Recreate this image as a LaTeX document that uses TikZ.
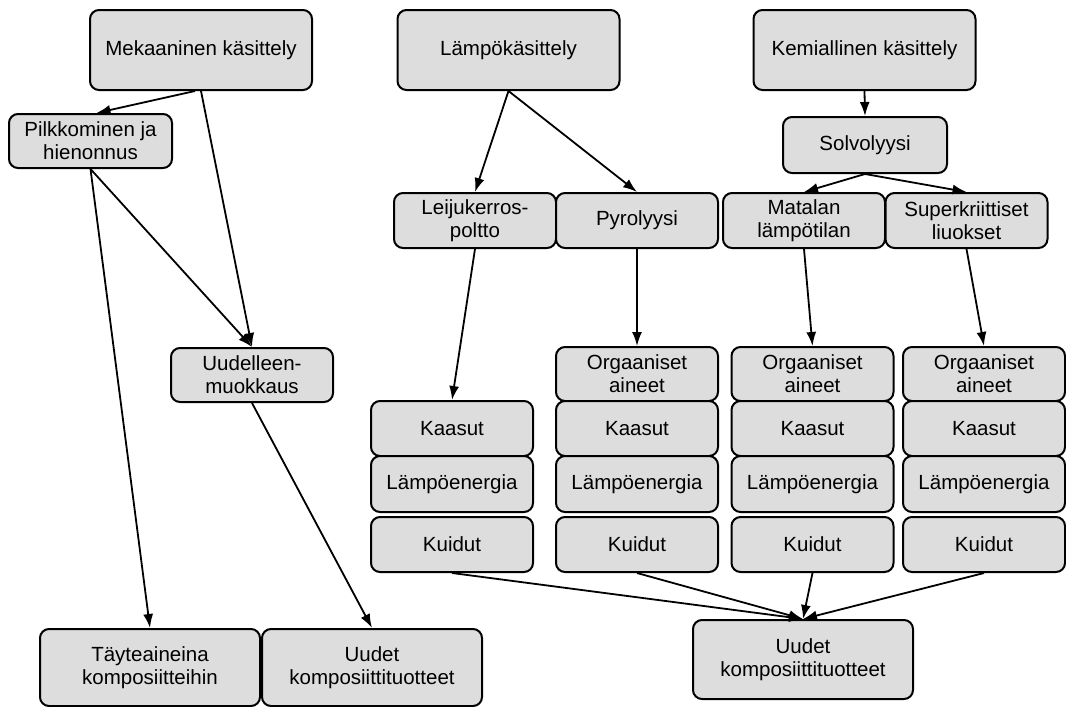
\documentclass[tikz,border=0pt]{standalone}
\usepackage{fontspec}
\setmainfont{Liberation Sans}
\usetikzlibrary{arrows.meta}
\definecolor{boxgray}{RGB}{221,221,221}
\begin{document}
\begin{tikzpicture}[x=1pt,y=-1pt,
  box/.style={draw,line width=2pt,fill=boxgray,rounded corners=9pt,align=center,inner sep=0pt,
    font=\fontsize{20.5}{23}\selectfont},
  big/.style={box,minimum width=222,minimum height=80},
  small/.style={box,minimum width=162,minimum height=55},
  arr/.style={line width=1.8pt,-{Latex[length=14pt,width=10pt]}}]
\useasboundingbox[fill=white] (0,0) rectangle (1066,707);
\node[big] (mek) at (201,50) {Mekaaninen käsittely};
\node[big] (lampo) at (508.5,50) {Lämpökäsittely};
\node[big] (kemi) at (864.5,50) {Kemiallinen käsittely};
\node[small,minimum width=163,minimum height=54] (pilk) at (90.5,141) {Pilkkominen ja\\hienonnus};
\node[small,minimum width=164,minimum height=56] (solvo) at (865,145) {Solvolyysi};
\node[small] (leiju) at (475,220.5) {Leijukerros-\\poltto};
\node[small] (pyro) at (637,220.5) {Pyrolyysi};
\node[small] (matala) at (804,220.5) {Matalan\\lämpötilan};
\node[small] (superk) at (966.5,220.5) {Superkriittiset\\liuokset};
\node[small,minimum height=54] (uud) at (252,375) {Uudelleen-\\muokkaus};
\node[small,minimum height=54] (org2) at (637,374) {Orgaaniset\\aineet};
\node[small,minimum height=54] (org3) at (812.5,374) {Orgaaniset\\aineet};
\node[small,minimum height=54] (org4) at (984,374) {Orgaaniset\\aineet};
\node[small] (kaa1) at (452,428.5) {Kaasut};
\node[small] (kaa2) at (637,428.5) {Kaasut};
\node[small] (kaa3) at (812.5,428.5) {Kaasut};
\node[small] (kaa4) at (984,428.5) {Kaasut};
\node[small,minimum height=56] (ene1) at (452,484) {Lämpöenergia};
\node[small,minimum height=56] (ene2) at (637,484) {Lämpöenergia};
\node[small,minimum height=56] (ene3) at (812.5,484) {Lämpöenergia};
\node[small,minimum height=56] (ene4) at (984,484) {Lämpöenergia};
\node[small] (kui1) at (452,544.5) {Kuidut};
\node[small] (kui2) at (637,544.5) {Kuidut};
\node[small] (kui3) at (812.5,544.5) {Kuidut};
\node[small] (kui4) at (984,544.5) {Kuidut};
\node[box,minimum width=220,minimum height=77] (tayte) at (150,667.5) {Täyteaineina\\komposiitteihin};
\node[box,minimum width=220,minimum height=77] (uudL) at (372,667.5) {Uudet\\komposiittituotteet};
\node[box,minimum width=220,minimum height=79] (uudR) at (803,659.5) {Uudet\\komposiittituotteet};
\draw[arr] ([xshift=-6pt]mek.south) -- ([xshift=6pt]pilk.north);
\draw[arr] (mek.south) -- (uud.north);
\draw[arr] (pilk.south) -- (uud.north);
\draw[arr] (pilk.south) -- (tayte.north);
\draw[arr] (uud.south) -- (uudL.north);
\draw[arr] (lampo.south) -- (leiju.north);
\draw[arr] (lampo.south) -- (pyro.north);
\draw[arr] (kemi.south) -- (solvo.north);
\draw[arr] (solvo.south) -- (matala.north);
\draw[arr] (solvo.south) -- (superk.north);
\draw[arr] (leiju.south) -- (kaa1.north);
\draw[arr] (pyro.south) -- (org2.north);
\draw[arr] (matala.south) -- (org3.north);
\draw[arr] (superk.south) -- (org4.north);
\draw[arr] (kui1.south) -- (uudR.north);
\draw[arr] (kui2.south) -- (uudR.north);
\draw[arr] (kui3.south) -- (uudR.north);
\draw[arr] (kui4.south) -- (uudR.north);
\end{tikzpicture}
\end{document}
